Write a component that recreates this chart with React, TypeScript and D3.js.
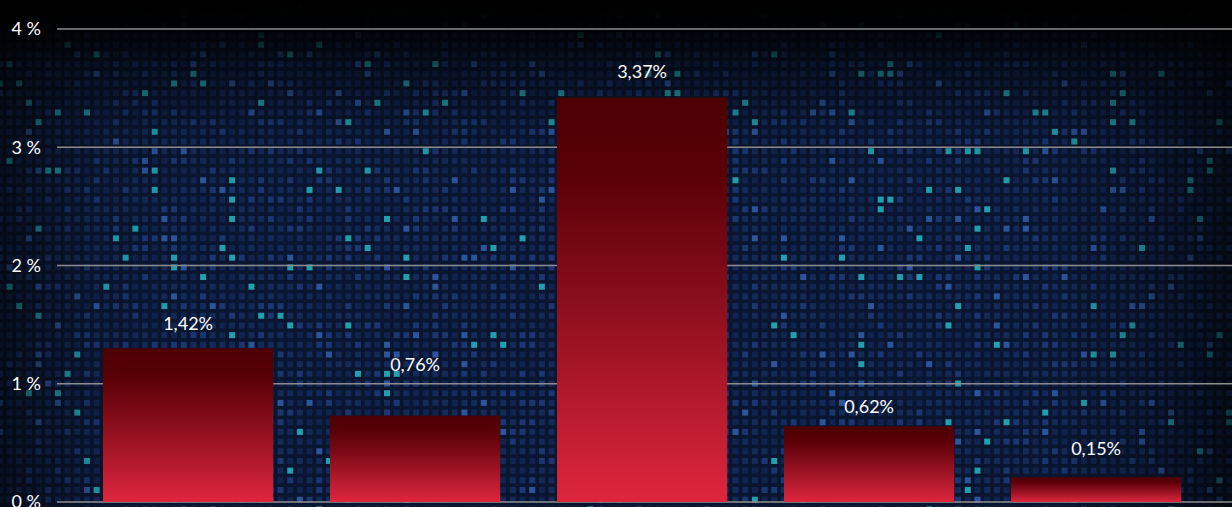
import React, { useMemo } from "react";
import * as d3 from "d3";

const categories = ["A", "B", "C", "D", "E"];
const barValues = [1.3, 0.73, 3.42, 0.64, 0.21];
const valueLabels = ["1,42%", "0,76%", "3,37%", "0,62%", "0,15%"];
const labelLevels = [1.51, 1.16, 3.64, 0.805, 0.45];
const yTicks = [0, 1, 2, 3, 4];
const yTickLabels = ["0 %", "1 %", "2 %", "3 %", "4 %"];

const W = 1232;
const H = 507;
const FONT = "Lato, 'Open Sans', 'DejaVu Sans', sans-serif";

function hash(i: number, j: number) {
  const s = Math.sin(i * 12.9898 + j * 78.233) * 43758.5453;
  return s - Math.floor(s);
}

export default function App() {
  const y = d3.scaleLinear().domain([0, 4]).range([502, 29]);
  const x = d3
    .scaleBand<string>()
    .domain(categories)
    .range([74.6, 1209.6])
    .paddingInner(0.25)
    .paddingOuter(0.125);

  const cells = useMemo(() => {
    const out: { x: number; y: number; c: string }[] = [];
    const pitch = 9.68;
    for (let i = -1; i < W / pitch + 1; i++) {
      for (let j = -1; j < H / pitch + 1; j++) {
        const r = hash(i, j);
        const r2 = hash(j + 101, i + 7);
        let c = "#112450";
        if (r > 0.965) c = "#21a0b0";
        else if (r > 0.925) c = "#2d559c";
        else if (r > 0.78) c = "#1b3672";
        else if (r2 > 0.5) c = "#142a58";
        out.push({ x: 9.5 + i * pitch - 3, y: 6 + j * pitch - 3, c });
      }
    }
    return out;
  }, []);

  return (
    <svg
      width={W}
      height={H}
      style={{ position: "fixed", left: 0, top: 0, display: "block" }}
    >
      <defs>
        <linearGradient id="barGrad" x1="0" y1="0" x2="0" y2="1">
          <stop offset="0%" stopColor="#4d0003" />
          <stop offset="18%" stopColor="#580006" />
          <stop offset="50%" stopColor="#8a0e1c" />
          <stop offset="100%" stopColor="#de263d" />
        </linearGradient>
        <linearGradient id="topFade" x1="0" y1="0" x2="0" y2="1">
          <stop offset="0%" stopColor="#000" stopOpacity={1} />
          <stop offset="5%" stopColor="#000" stopOpacity={0.95} />
          <stop offset="13%" stopColor="#000" stopOpacity={0.5} />
          <stop offset="26%" stopColor="#000" stopOpacity={0.1} />
          <stop offset="40%" stopColor="#000" stopOpacity={0} />
        </linearGradient>
        <linearGradient id="sideFade" x1="0" y1="0" x2="1" y2="0">
          <stop offset="0%" stopColor="#000" stopOpacity={0.55} />
          <stop offset="8%" stopColor="#000" stopOpacity={0.1} />
          <stop offset="15%" stopColor="#000" stopOpacity={0} />
          <stop offset="85%" stopColor="#000" stopOpacity={0} />
          <stop offset="93%" stopColor="#000" stopOpacity={0.25} />
          <stop offset="100%" stopColor="#000" stopOpacity={0.65} />
        </linearGradient>
      </defs>
      <rect x={0} y={0} width={W} height={H} fill="#0a1630" />
      <g>
        {cells.map((d, k) => (
          <rect key={k} x={d.x} y={d.y} width={6} height={6} fill={d.c} />
        ))}
      </g>
      <rect x={0} y={0} width={W} height={H} fill="url(#sideFade)" />
      <rect x={0} y={0} width={W} height={H} fill="url(#topFade)" />

      {yTicks.map((t, i) => (
        <g key={t}>
          <line
            x1={57}
            x2={W}
            y1={y(t)}
            y2={y(t)}
            stroke="#8c8c8c"
            strokeWidth={1.6}
          />
          <text
            x={41}
            y={y(t)}
            dy="0.36em"
            textAnchor="end"
            fill="#ffffff"
            fontFamily={FONT}
            fontSize={18}
          >
            {yTickLabels[i]}
          </text>
        </g>
      ))}

      {categories.map((c, i) => (
        <g key={c}>
          <rect
            x={x(c)}
            y={y(barValues[i])}
            width={x.bandwidth()}
            height={y(0) - y(barValues[i])}
            fill="url(#barGrad)"
          />
          <text
            x={(x(c) as number) + x.bandwidth() / 2}
            y={y(labelLevels[i])}
            dy="0.36em"
            textAnchor="middle"
            fill="#ffffff"
            fontFamily={FONT}
            fontSize={18}
          >
            {valueLabels[i]}
          </text>
        </g>
      ))}
    </svg>
  );
}
